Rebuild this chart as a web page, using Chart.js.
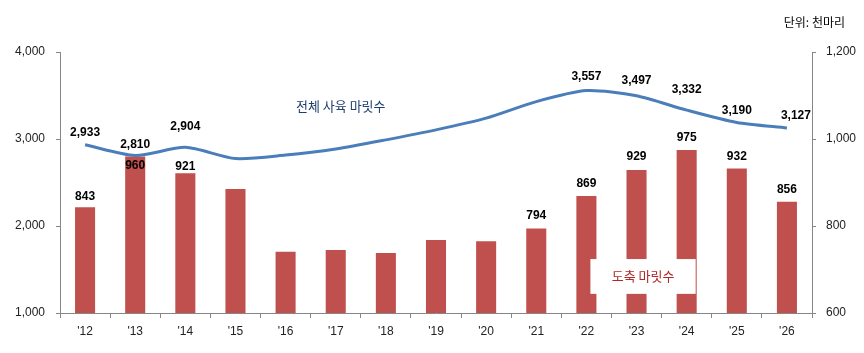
<!DOCTYPE html>
<html><head><meta charset="utf-8">
<script src="https://cdn.jsdelivr.net/npm/chart.js@4"></script>
<style>html,body{margin:0;padding:0;background:#fff}#wrap{width:864px;height:353px;position:relative}</style>
</head><body><div id="wrap"><canvas id="c" width="864" height="353"></canvas></div>
<script>
const categories = ["'12","'13","'14","'15","'16","'17","'18","'19","'20","'21","'22","'23","'24","'25","'26"];
const slaughter = [843,960,921,885,741,745,738,768,765,794,869,929,975,932,856];
const slaughterLabelShown = [true,true,true,false,false,false,false,false,false,true,true,true,true,true,true];
const totalHead = [2933,2810,2904,2775,2815,2885,2990,3105,3240,3430,3557,3497,3332,3190,3127];
const totalLabelShown = [true,true,true,false,false,false,false,false,false,false,true,true,true,true,true];
const leftTicks = [1000,2000,3000,4000];
const rightTicks = [600,800,1000,1200];
const lineLabelLift = [12,11,21,12,12,12,12,12,12,12,14,15,20,12,12];
const lineLabelShift = [0,0,0,0,0,0,0,0,0,0,0,0,0,0,9];
const barLabelLift = [11,-9,7,12,12,12,12,12,12,13,12,13,12,12,12];

const fmt = v => v.toLocaleString('en-US');
const NUMFONT = '"Liberation Sans", Arial, sans-serif';
const KFONT = '"Noto Sans CJK KR", "Liberation Sans", sans-serif';

const labelPlugin = {
  id: 'labels',
  afterDatasetsDraw(chart) {
    const ctx = chart.ctx;
    ctx.save();
    ctx.font = 'bold 12px ' + NUMFONT;
    ctx.fillStyle = '#000';
    ctx.textAlign = 'center';
    ctx.textBaseline = 'middle';
    const barMeta = chart.getDatasetMeta(0);
    barMeta.data.forEach((el, i) => {
      if (!slaughterLabelShown[i]) return;
      ctx.fillText(fmt(slaughter[i]), el.x, el.y - barLabelLift[i]);
    });
    const lineMeta = chart.getDatasetMeta(1);
    lineMeta.data.forEach((el, i) => {
      if (!totalLabelShown[i]) return;
      ctx.fillText(fmt(totalHead[i]), el.x + lineLabelShift[i], el.y - lineLabelLift[i]);
    });
    const xs = chart.scales.x, yl = chart.scales.yL, yr = chart.scales.yR;
    // annotation: total
    ctx.font = '13px ' + KFONT;
    ctx.fillStyle = '#1F3F6E';
    ctx.fillText('전체 사육 마릿수', xs.getPixelForValue(5) + 5, yl.getPixelForValue(3380));
    // annotation: slaughter box
    const bx0 = xs.getPixelForValue(10) + 4, bx1 = xs.getPixelForValue(12) + 9;
    const by0 = yr.getPixelForValue(724), by1 = yr.getPixelForValue(644);
    ctx.fillStyle = '#fff';
    ctx.fillRect(bx0, by0, bx1 - bx0, by1 - by0);
    ctx.fillStyle = '#B0292A';
    ctx.fillText('도축 마릿수', (bx0 + bx1) / 2, (by0 + by1) / 2);
    // unit
    ctx.fillStyle = '#000';
    ctx.font = '12px ' + KFONT;
    ctx.textAlign = 'right';
    ctx.fillText('단위: 천마리', 845, 22);
    ctx.restore();
  }
};

new Chart(document.getElementById('c'), {
  data: {
    labels: categories,
    datasets: [
      { type: 'bar', label: '도축 마릿수', data: slaughter, yAxisID: 'yR', backgroundColor: '#C0504D',
        barPercentage: 0.8, categoryPercentage: 0.5, order: 2 },
      { type: 'line', label: '전체 사육 마릿수', data: totalHead, yAxisID: 'yL', borderColor: '#4A7EBB',
        borderWidth: 3, pointRadius: 0, tension: 0.25, fill: false, order: 1 }
    ]
  },
  options: {
    responsive: false, animation: false,
    layout: { padding: { top: 52, left: 0, right: 0, bottom: 0 } },
    plugins: { legend: { display: false }, tooltip: { enabled: false } },
    scales: {
      x: {
        offset: true,
        grid: { display: true, offset: true, drawOnChartArea: false, drawTicks: true, tickLength: 5, color: '#868686' },
        border: { display: true, color: '#868686', width: 1 },
        ticks: { color: '#222', font: { family: NUMFONT, size: 12 }, padding: 6, maxRotation: 0, autoSkip: false },
        afterFit(s) { s.height = 40; }
      },
      yL: {
        position: 'left', min: 1000, max: 4000,
        afterBuildTicks(s) { s.ticks = leftTicks.map(v => ({ value: v })); },
        grid: { drawOnChartArea: false, drawTicks: true, tickLength: 4, color: '#868686' },
        border: { display: true, color: '#868686', width: 1 },
        ticks: { color: '#222', font: { family: NUMFONT, size: 12 }, padding: 11, callback: v => fmt(v) },
        afterFit(s) { s.width = 60; }
      },
      yR: {
        position: 'right', min: 600, max: 1200,
        afterBuildTicks(s) { s.ticks = rightTicks.map(v => ({ value: v })); },
        grid: { drawOnChartArea: false, drawTicks: true, tickLength: 4, color: '#868686' },
        border: { display: true, color: '#868686', width: 1 },
        ticks: { color: '#222', font: { family: NUMFONT, size: 12 }, padding: 10, callback: v => fmt(v) },
        afterFit(s) { s.width = 52; }
      }
    }
  },
  plugins: [labelPlugin]
});
</script></body></html>
